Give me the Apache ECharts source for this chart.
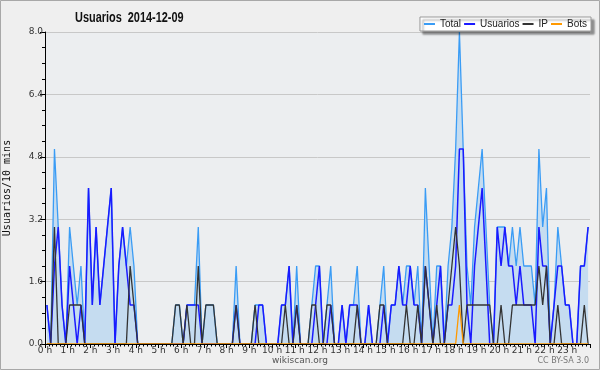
<!DOCTYPE html>
<html>
<head>
<meta charset="utf-8">
<script src="https://cdn.jsdelivr.net/npm/echarts@6/dist/echarts.min.js"></script>
<style>
  html, body { margin: 0; padding: 0; background: #efefef; }
  #chart { width: 600px; height: 370px; }
</style>
</head>
<body>
<div id="chart"></div>
<script>
///////////////////////////////////////////////////
// Data : one value per 10 minutes (144 slots)
///////////////////////////////////////////////////
var titleText = 'Usuarios  2014-12-09';
var seriesNames = ['Total', 'Usuarios', 'IP', 'Bots'];
var hourLabels = ['0 h', '1 h', '2 h', '3 h', '4 h', '5 h', '6 h', '7 h', '8 h', '9 h', '10 h', '11 h',
  '12 h', '13 h', '14 h', '15 h', '16 h', '17 h', '18 h', '19 h', '20 h', '21 h', '22 h', '23 h'];
var yLabels = ['0.0', '1.6', '3.2', '4.8', '6.4', '8.0'];

var total = [
  1, 0, 5, 3, 1, 0, 3, 2, 1, 2, 0, 4, 1, 3, 1, 2, 3, 4, 0, 2, 3, 2, 3, 2,
  0, 0, 0, 0, 0, 0, 0, 0, 0, 0, 1, 1, 0, 1, 1, 1, 3, 0, 1, 1, 1, 0, 0, 0,
  0, 0, 2, 0, 0, 0, 0, 1, 1, 1, 0, 0, 0, 0, 1, 1, 2, 0, 2, 0, 0, 0, 1, 2,
  2, 0, 1, 2, 0, 0, 1, 0, 1, 1, 2, 0, 0, 1, 0, 0, 1, 2, 0, 1, 1, 2, 1, 2,
  2, 1, 2, 0, 4, 2, 0, 2, 2, 0, 2, 3, 5, 8, 5, 2, 1, 3, 4, 5, 3, 1, 0, 3,
  3, 3, 2, 3, 2, 3, 2, 2, 2, 1, 5, 3, 4, 0, 1, 3, 2, 1, 1, 0, 0, 2, 2, 3
];
var usuarios = [
  1, 0, 2, 3, 1, 0, 2, 1, 0, 1, 0, 4, 1, 3, 1, 2, 3, 4, 0, 2, 3, 2, 1, 1,
  0, 0, 0, 0, 0, 0, 0, 0, 0, 0, 0, 0, 0, 1, 1, 1, 1, 0, 0, 0, 0, 0, 0, 0,
  0, 0, 1, 0, 0, 0, 0, 0, 1, 1, 0, 0, 0, 0, 1, 1, 2, 0, 1, 0, 0, 0, 0, 1,
  2, 0, 0, 1, 0, 0, 1, 0, 1, 1, 1, 0, 0, 1, 0, 0, 0, 1, 0, 1, 1, 2, 1, 1,
  2, 1, 1, 0, 2, 1, 0, 1, 2, 0, 1, 1, 2, 5, 5, 1, 0, 2, 3, 4, 2, 0, 0, 3,
  2, 3, 2, 2, 1, 2, 1, 1, 1, 0, 3, 2, 2, 0, 1, 2, 2, 1, 1, 0, 0, 2, 2, 3
];
var ip = [
  0, 0, 3, 0, 0, 0, 1, 1, 1, 1, 0, 0, 0, 0, 0, 0, 0, 0, 0, 0, 0, 0, 2, 1,
  0, 0, 0, 0, 0, 0, 0, 0, 0, 0, 1, 1, 0, 1, 0, 0, 2, 0, 1, 1, 1, 0, 0, 0,
  0, 0, 1, 0, 0, 0, 0, 1, 0, 0, 0, 0, 0, 0, 0, 1, 0, 0, 1, 0, 0, 0, 1, 1,
  0, 0, 1, 1, 0, 0, 0, 0, 0, 0, 1, 0, 0, 0, 0, 0, 1, 1, 0, 0, 0, 0, 0, 1,
  0, 0, 1, 0, 2, 1, 0, 1, 0, 0, 1, 2, 3, 2, 0, 1, 1, 1, 1, 1, 1, 1, 0, 0,
  1, 0, 0, 1, 1, 1, 1, 1, 1, 1, 2, 1, 2, 0, 0, 1, 0, 0, 0, 0, 0, 0, 1, 0
];
var bots = [
  0, 0, 0, 0, 0, 0, 0, 0, 0, 0, 0, 0, 0, 0, 0, 0, 0, 0, 0, 0, 0, 0, 0, 0,
  0, 0, 0, 0, 0, 0, 0, 0, 0, 0, 0, 0, 0, 0, 0, 0, 0, 0, 0, 0, 0, 0, 0, 0,
  0, 0, 0, 0, 0, 0, 0, 0, 0, 0, 0, 0, 0, 0, 0, 0, 0, 0, 0, 0, 0, 0, 0, 0,
  0, 0, 0, 0, 0, 0, 0, 0, 0, 0, 0, 0, 0, 0, 0, 0, 0, 0, 0, 0, 0, 0, 0, 0,
  0, 0, 0, 0, 0, 0, 0, 0, 0, 0, 0, 0, 0, 1, 0, 0, 0, 0, 0, 0, 0, 0, 0, 0,
  0, 0, 0, 0, 0, 0, 0, 0, 0, 0, 0, 0, 0, 0, 0, 0, 0, 0, 0, 0, 0, 0, 0, 0
];

// each value sits in the middle of its 10 minute slot
function toPoints(arr) {
  return arr.map(function (v, i) { return [i + 0.5, v]; });
}

///////////////////////////////////////////////////
// Chart
///////////////////////////////////////////////////
var myChart = echarts.init(document.getElementById('chart'), null, { renderer: 'canvas' });

var option = {
  animation: false,
  backgroundColor: '#efefef',
  legend: {
    data: seriesNames,
    right: 9,
    top: 17,
    padding: [2, 4],
    itemGap: 3,
    itemWidth: 11,
    itemHeight: 2,
    icon: 'rect',
    backgroundColor: '#fff',
    borderColor: '#999',
    borderWidth: 1,
    shadowColor: 'rgba(0,0,0,0.4)',
    shadowBlur: 2,
    shadowOffsetX: 3,
    shadowOffsetY: 3,
    textStyle: { fontFamily: 'Liberation Sans', fontSize: 10, color: '#222' }
  },
  grid: {
    left: 45, right: 10, top: 32, bottom: 26,
    containLabel: false,
    outerBoundsMode: 'none',
    show: true, backgroundColor: '#eceef0', borderWidth: 0
  },
  xAxis: {
    type: 'value',
    min: 0,
    max: 144,
    interval: 6,
    z: 10,
    axisLine: { lineStyle: { color: '#000', width: 1 } },
    axisTick: { length: 4, lineStyle: { color: '#000' } },
    minorTick: { show: true, splitNumber: 6, length: 2.5, lineStyle: { color: '#000' } },
    splitLine: { show: false },
    axisLabel: {
      margin: 2,
      fontSize: 9,
      color: '#333',
      fontFamily: 'DejaVu Sans',
      formatter: function (v) { return hourLabels[Math.round(v / 6)] || ''; }
    }
  },
  yAxis: {
    type: 'value',
    min: 0,
    max: 8,
    interval: 1.6,
    name: 'Usuarios/10 mins',
    nameLocation: 'middle',
    nameGap: 33,
    nameTextStyle: { fontFamily: 'DejaVu Sans Mono', fontSize: 10, color: '#111' },
    axisLine: { show: true, lineStyle: { color: '#000', width: 1 } },
    axisTick: { show: true, length: 5, lineStyle: { color: '#000' } },
    minorTick: { show: true, splitNumber: 4, length: 3, lineStyle: { color: '#000' } },
    splitLine: { lineStyle: { color: '#c8c8c8' } },
    axisLabel: {
      margin: 2,
      fontSize: 9,
      color: '#333',
      fontFamily: 'DejaVu Sans',
      formatter: function (v) { return yLabels[Math.round(v / 1.6)]; }
    }
  },
  series: [
    {
      name: seriesNames[0], type: 'line', data: toPoints(total),
      symbol: 'none', color: '#3a9cf5',
      lineStyle: { width: 1.3, color: '#3a9cf5' },
      areaStyle: { color: '#c5dcf0', opacity: 1 }
    },
    {
      name: seriesNames[1], type: 'line', data: toPoints(usuarios),
      symbol: 'none', color: '#1a1aff',
      lineStyle: { width: 1.5, color: '#1a1aff' }
    },
    {
      name: seriesNames[2], type: 'line', data: toPoints(ip),
      symbol: 'none', color: '#333',
      lineStyle: { width: 1.3, color: '#333' }
    },
    {
      name: seriesNames[3], type: 'line', data: toPoints(bots),
      symbol: 'none', color: '#ff9900',
      lineStyle: { width: 1.3, color: '#ff9900' }
    }
  ],
  graphic: [
    {
      type: 'rect', silent: true,
      shape: { x: 0.5, y: 0.5, width: 599, height: 369 },
      style: { fill: 'none', stroke: '#a8a8a8', lineWidth: 1 }
    },
    {
      // narrow bold title
      type: 'text', x: 75, y: 11, scaleX: 0.78,
      style: { text: titleText, fontSize: 14, fontWeight: 'bold', fontFamily: 'Liberation Sans', fill: '#111' }
    },
    {
      type: 'text', left: 'center', top: 356,
      style: { text: 'wikiscan.org', fontSize: 9, fontFamily: 'DejaVu Sans', fill: '#555' }
    },
    {
      type: 'text', right: 11, top: 357,
      style: { text: 'CC BY-SA 3.0', fontSize: 8, fontFamily: 'DejaVu Sans', fill: '#777' }
    }
  ]
};

myChart.setOption(option);
</script>
</body>
</html>
